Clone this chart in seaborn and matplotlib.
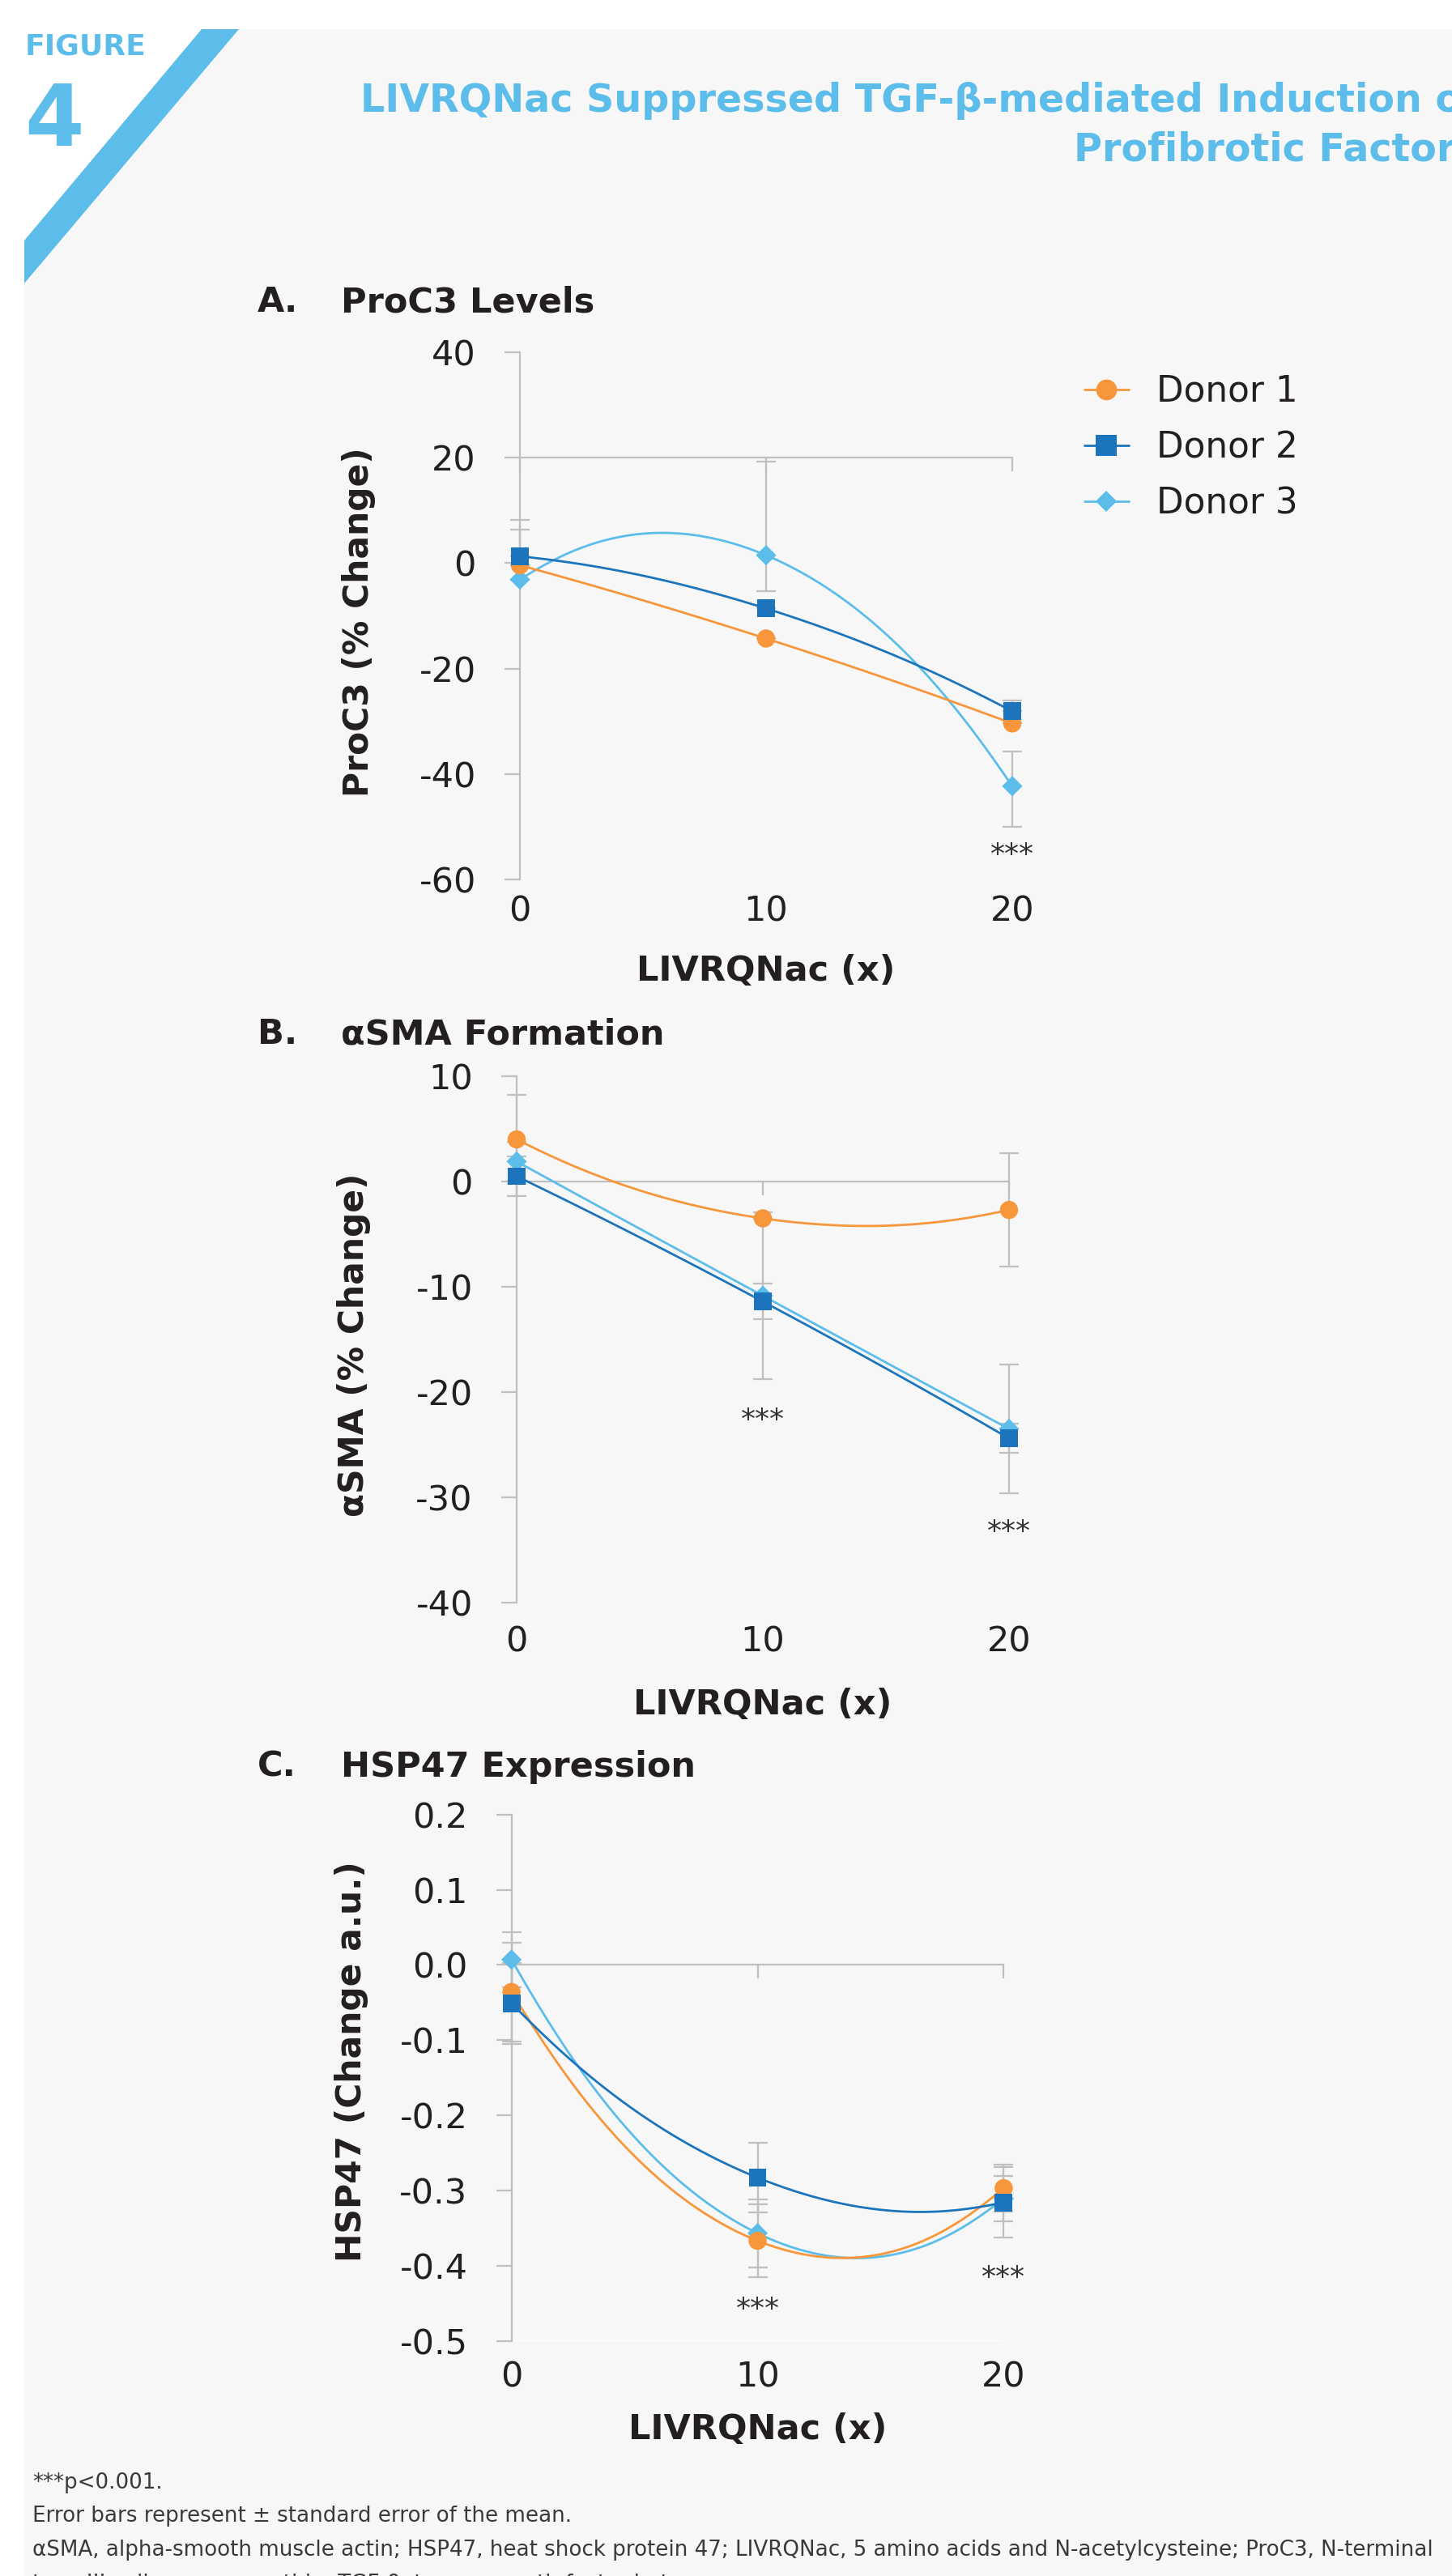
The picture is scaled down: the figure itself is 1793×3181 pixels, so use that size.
import numpy as np
import pandas as pd
import seaborn as sns
import matplotlib.pyplot as plt
from matplotlib.lines import Line2D
from matplotlib.patches import Polygon
from matplotlib.ticker import FormatStrFormatter

W, H, DPI = 1793, 3181, 100

doses = [0, 10, 20]
donors = ["Donor 1", "Donor 2", "Donor 3"]
draw_order = ["Donor 3", "Donor 1", "Donor 2"]
colors = {"Donor 1": "#F7963A", "Donor 2": "#1C75BC", "Donor 3": "#5CBDEA"}
markers = {"Donor 1": "o", "Donor 2": "s", "Donor 3": "D"}
msizes = {"Donor 1": 260, "Donor 2": 250, "Donor 3": 165}

# A. ProC3 (% change)
proc3 = {"Donor 1": [-0.4, -14.3, -30.4],
         "Donor 2": [1.3, -8.6, -28.1],
         "Donor 3": [-3.1, 1.5, -42.3]}
proc3_err_lo = {"Donor 1": [0, 0, 0], "Donor 2": [0, 0, 0], "Donor 3": [0, 6.8, 7.7]}
proc3_err_hi = {"Donor 1": [6.8, 0, 0], "Donor 2": [6.9, 0, 2.1], "Donor 3": [0, 17.7, 6.5]}
proc3_stars_x = [20]
proc3_stars_y = [-55.4]

# B. aSMA (% change)
asma = {"Donor 1": [4.0, -3.5, -2.7],
        "Donor 2": [0.5, -11.4, -24.4],
        "Donor 3": [1.9, -10.85, -23.5]}
asma_err = {"Donor 1": [4.25, 0, 5.4],
            "Donor 2": [1.85, 1.7, 1.4],
            "Donor 3": [1.84, 7.9, 6.1]}
asma_stars_x = [10, 20]
asma_stars_y = [-22.7, -33.3]

# C. HSP47 (change a.u.)
hsp47 = {"Donor 1": [-0.036, -0.367, -0.297],
         "Donor 2": [-0.051, -0.283, -0.316],
         "Donor 3": [0.007, -0.357, -0.311]}
hsp47_err = {"Donor 1": [0.066, 0.048, 0.031],
             "Donor 2": [0.054, 0.046, 0.047],
             "Donor 3": [0.037, 0.045, 0.030]}
hsp47_stars_x = [10, 20]
hsp47_stars_y = [-0.458, -0.416]

TXT = "#231F20"
AXC = "#BFBFBF"
BLUE = "#5CBDEA"

sns.set_theme(style="white")
plt.rcParams["font.family"] = ["DejaVu Sans"]
plt.rcParams["axes.unicode_minus"] = False


def px(x, y):
    return x / W, 1 - y / H


def smooth(xs, ys, f=0.25, n=60):
    # Excel-style smoothed line: cubic bezier through the points
    P = np.column_stack([xs, ys]).astype(float)
    segs = []
    t = np.linspace(0, 1, n)[:, None]
    m = len(P)
    for i in range(m - 1):
        p0, p3 = P[i], P[i + 1]
        c1 = p0 + f * (P[i + 1] - P[i - 1]) if i > 0 else None
        c2 = p3 - f * (P[i + 2] - P[i]) if i + 2 < m else None
        if c1 is None:
            c1 = p0 + (c2 - p0) / 3
        if c2 is None:
            c2 = p3 + (c1 - p3) / 3
        seg = (1 - t) ** 3 * p0 + 3 * (1 - t) ** 2 * t * c1 + 3 * (1 - t) * t ** 2 * c2 + t ** 3 * p3
        segs.append(seg if i == 0 else seg[1:])
    s = np.vstack(segs)
    return s[:, 0], s[:, 1]


fig = plt.figure(figsize=(W / DPI, H / DPI), dpi=DPI, facecolor="white")

# background panel with cut corner and blue stripe
fig.add_artist(Polygon([px(295, 36), px(1793, 36), px(1793, 3181), px(30, 3181), px(30, 350)],
                       closed=True, transform=fig.transFigure, facecolor="#F7F7F7", edgecolor="none", zorder=-10))
fig.add_artist(Polygon([px(249, 36), px(295, 36), px(30, 350), px(30, 297)],
                       closed=True, transform=fig.transFigure, facecolor=BLUE, edgecolor="none", zorder=-9))
fig.text(*px(31, 68), "FIGURE", color=BLUE, fontsize=26, fontweight="bold", ha="left", va="baseline")
fig.text(*px(30, 180), "4", color=BLUE, fontsize=76, fontweight="bold", ha="left", va="baseline")
fig.text(*px(1826, 124), "LIVRQNac Suppressed TGF-β-mediated Induction of", color=BLUE,
         fontsize=34.3, fontweight="bold", ha="right", va="center")
fig.text(*px(1826, 185), "Profibrotic Factors", color=BLUE,
         fontsize=34.3, fontweight="bold", ha="right", va="center")

panels = [
    dict(data=proc3, lo=proc3_err_lo, hi=proc3_err_hi, sx=proc3_stars_x, sy=proc3_stars_y,
         box=(642, 435, 1250, 1086), ylim=(-60, 40), yticks=[-60, -40, -20, 0, 20, 40], cross=20,
         ylabel="ProC3 (% Change)", letter="A.", title="ProC3 Levels", ty=373,
         ylx=-0.327, yly=0.488, xly=-0.174, pad=13, fmt="%d"),
    dict(data=asma, lo=asma_err, hi=asma_err, sx=asma_stars_x, sy=asma_stars_y,
         box=(638, 1329, 1246, 1979), ylim=(-40, 10), yticks=[-40, -30, -20, -10, 0, 10], cross=0,
         ylabel="αSMA (% Change)", letter="B.", title="αSMA Formation", ty=1277,
         ylx=-0.331, yly=0.49, xly=-0.194, pad=20, fmt="%d"),
    dict(data=hsp47, lo=hsp47_err, hi=hsp47_err, sx=hsp47_stars_x, sy=hsp47_stars_y,
         box=(631.6, 2240.7, 1239.4, 2890.5), ylim=(-0.5, 0.2),
         yticks=[-0.5, -0.4, -0.3, -0.2, -0.1, 0.0, 0.1, 0.2], cross=0,
         ylabel="HSP47 (Change a.u.)", letter="C.", title="HSP47 Expression", ty=2182,
         ylx=-0.325, yly=0.53, xly=-0.168, pad=17, fmt="%.1f"),
]

axes = []
for p in panels:
    x0, y0, x1, y1 = p["box"]
    ax = fig.add_axes([x0 / W, 1 - y1 / H, (x1 - x0) / W, (y1 - y0) / H])
    ax.set_facecolor("none")
    axes.append(ax)

    # error bars
    for d in draw_order:
        ax.errorbar(doses, p["data"][d], yerr=[p["lo"][d], p["hi"][d]], fmt="none",
                    ecolor=AXC, elinewidth=1.6, capsize=8.6, capthick=1.6, zorder=2, clip_on=False)

    # smoothed lines
    rows = []
    for d in draw_order:
        sx, sy = smooth(doses, p["data"][d])
        rows.append(pd.DataFrame({"x": sx, "y": sy, "donor": d}))
    curves = pd.concat(rows, ignore_index=True)
    sns.lineplot(data=curves, x="x", y="y", hue="donor", hue_order=draw_order, palette=colors,
                 units="donor", estimator=None, sort=False, legend=False, lw=2.0, ax=ax,
                 zorder=3, clip_on=False)

    pts = pd.DataFrame([(d, x, v) for d in draw_order for x, v in zip(doses, p["data"][d])],
                       columns=["donor", "dose", "value"])
    sns.scatterplot(data=pts, x="dose", y="value", hue="donor", style="donor", size="donor",
                    palette=colors, markers=markers, sizes=msizes, linewidth=0, legend=False,
                    ax=ax, zorder=4, clip_on=False)

    for sxv, syv in zip(p["sx"], p["sy"]):
        ax.text(sxv, syv, "***", ha="center", va="center", fontsize=26, color="#333333")

    ax.set_xlim(0, 20)
    ax.set_ylim(*p["ylim"])
    for s in ["top", "right"]:
        ax.spines[s].set_visible(False)
    ax.spines["left"].set_color(AXC)
    ax.spines["left"].set_linewidth(1.6)
    ax.spines["bottom"].set_color(AXC)
    ax.spines["bottom"].set_linewidth(1.6)
    ax.spines["bottom"].set_position(("data", p["cross"]))
    ax.spines["bottom"].set_bounds(0, 20)
    ax.set_yticks(p["yticks"])
    ax.yaxis.set_major_formatter(FormatStrFormatter(p["fmt"]))
    ax.set_xticks(doses)
    ax.tick_params(axis="y", direction="out", length=14, width=1.6, color=AXC, pad=25,
                   labelsize=31, labelcolor=TXT, left=True)
    ax.tick_params(axis="x", direction="out", length=12, width=1.6, color=AXC,
                   labelbottom=False, bottom=True)

    sec = ax.secondary_xaxis(0)
    sec.set_xticks(doses)
    sec.spines["bottom"].set_visible(False)
    sec.tick_params(axis="x", length=0, pad=p["pad"], labelsize=31, labelcolor=TXT)

    ax.set_xlabel("LIVRQNac (x)", fontsize=31, fontweight="bold", color=TXT, va="center")
    ax.xaxis.set_label_coords(0.5, p["xly"])
    ax.set_ylabel(p["ylabel"], fontsize=30.5, fontweight="bold", color=TXT, va="center")
    ax.yaxis.set_label_coords(p["ylx"], p["yly"])

    fig.text(*px(318, p["ty"]), p["letter"], fontsize=31, fontweight="bold", color=TXT, va="center")
    fig.text(*px(421, p["ty"]), p["title"], fontsize=31, fontweight="bold", color=TXT, va="center")

handles = [Line2D([0], [0], color=colors[d], lw=2.0, marker=markers[d],
                  markersize=13.7 if d == "Donor 3" else 18.5, markeredgewidth=0) for d in donors]
axes[0].legend(handles, donors, loc="upper left", bbox_to_anchor=px(1339, 462),
               bbox_transform=fig.transFigure, frameon=False, fontsize=31.5, borderpad=0,
               borderaxespad=0, handlelength=1.25, handletextpad=0.78, labelspacing=0.6,
               labelcolor=TXT)

notes = ["***p<0.001.",
         "Error bars represent ± standard error of the mean.",
         "αSMA, alpha-smooth muscle actin; HSP47, heat shock protein 47; LIVRQNac, 5 amino acids and N-acetylcysteine; ProC3, N-terminal",
         "type III collagen propeptide; TGF-β, tumor growth factor-beta."]
for k, line in enumerate(notes):
    fig.text(*px(40, 3066 + 41.5 * k), line, fontsize=18.8, color="#3A3A3A", ha="left", va="center")

fig.savefig("out.png", dpi=DPI, facecolor="white")
